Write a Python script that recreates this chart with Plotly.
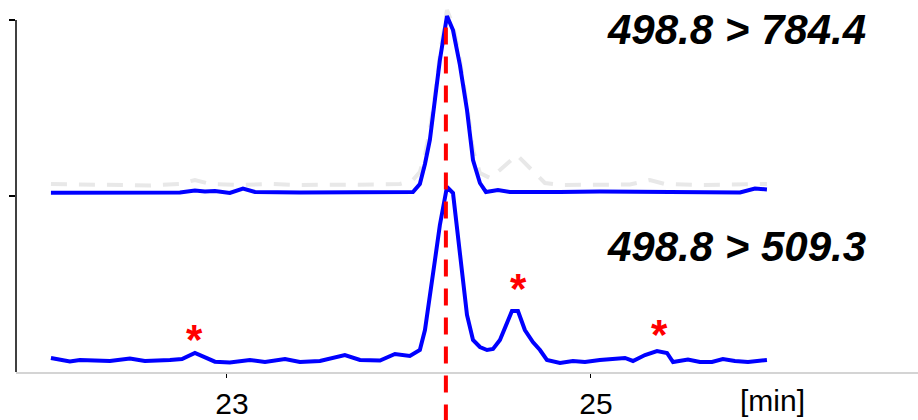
import plotly.graph_objects as go

# ---- data (time in min, intensity in arbitrary units; upper traces offset by ~51) ----
lower_t = [22.033, 22.137, 22.192, 22.357, 22.467, 22.549, 22.687, 22.753, 22.824, 22.934,
           23.016, 23.126, 23.209, 23.319, 23.401, 23.511, 23.648, 23.731, 23.841, 23.923,
           24.005, 24.060, 24.088, 24.115, 24.143, 24.170, 24.209, 24.242, 24.280, 24.319,
           24.352, 24.390, 24.429, 24.462, 24.500, 24.538, 24.566, 24.599, 24.637, 24.681,
           24.720, 24.758, 24.830, 24.901, 24.967, 25.049, 25.187, 25.231, 25.297, 25.363,
           25.418, 25.451, 25.533, 25.599, 25.665, 25.725, 25.791, 25.863, 25.967]
lower_v = [3.98, 2.98, 3.41, 3.13, 3.84, 3.13, 3.41, 3.69, 5.40, 2.93,
           2.70, 3.41, 2.84, 3.69, 2.84, 3.13, 4.83, 3.41, 3.27, 5.11,
           4.55, 6.25, 11.93, 21.02, 31.82, 41.76, 52.56, 50.85, 34.66, 16.19,
           9.09, 7.10, 6.25, 6.53, 9.09, 13.92, 17.33, 17.33, 11.93, 8.52,
           6.25, 3.41, 2.56, 3.13, 2.84, 3.41, 3.98, 3.13, 4.83, 5.97,
           5.40, 2.84, 3.55, 2.84, 2.84, 3.69, 3.13, 2.84, 3.41]

upper_t = [22.033, 22.302, 22.577, 22.687, 22.742, 22.824, 22.879, 22.934, 23.016, 23.088,
           23.154, 23.401, 23.841, 24.022, 24.060, 24.088, 24.115, 24.143, 24.170, 24.209,
           24.242, 24.280, 24.319, 24.352, 24.390, 24.423, 24.489, 24.555, 24.665, 24.830,
           25.049, 25.324, 25.599, 25.819, 25.901, 25.967]
upper_v = [50.94, 50.94, 51.00, 51.14, 51.00, 51.56, 51.28, 51.42, 50.85, 52.13,
           51.14, 51.00, 50.94, 51.14, 53.41, 59.09, 65.91, 77.27, 88.64, 101.14,
           97.16, 87.22, 74.43, 60.23, 53.69, 51.14, 51.70, 51.14, 51.05, 51.14,
           51.28, 51.14, 51.00, 51.00, 52.13, 51.85]

ref_t = [22.033, 22.302, 22.577, 22.742, 22.824, 22.907, 23.071, 23.236, 23.401, 23.841,
         23.951, 24.022, 24.060, 24.088, 24.115, 24.143, 24.170, 24.209, 24.242, 24.280,
         24.319, 24.352, 24.390, 24.445, 24.500, 24.593, 24.665, 24.747, 24.830, 25.049,
         25.214, 25.324, 25.407, 25.599, 25.819, 25.967]
ref_v = [53.41, 53.13, 52.98, 53.41, 54.55, 53.41, 53.13, 53.41, 53.13, 53.27,
         53.41, 54.55, 56.82, 61.65, 68.75, 78.69, 90.06, 102.84, 98.58, 88.64,
         75.85, 63.07, 56.53, 55.11, 57.39, 61.65, 57.95, 53.69, 53.13, 53.13,
         53.27, 54.55, 53.41, 53.13, 53.41, 53.41]

marker_time = 24.203
star_t = [22.824, 24.604, 25.374]
star_v = [10.8, 25.3, 12.5]

transition_labels = ["498.8 > 784.4", "498.8 > 509.3"]
label_y = [0.932, 0.343]

x_tickvals = [23, 25]
x_ticktext = ["23", "25"]
unit_label = "[min]"
unit_pos = 26.0

fig = go.Figure()
fig.add_trace(go.Scatter(x=ref_t, y=ref_v, mode="lines",
                         line=dict(color="#e8e8e8", width=4, dash="16px,12px"),
                         hoverinfo="skip"))
fig.add_trace(go.Scatter(x=upper_t, y=upper_v, mode="lines",
                         line=dict(color="#0000ff", width=4), hoverinfo="skip"))
fig.add_trace(go.Scatter(x=lower_t, y=lower_v, mode="lines",
                         line=dict(color="#0000ff", width=4), hoverinfo="skip"))

# red dashed retention-time marker
fig.add_shape(type="line", xref="x", yref="paper", x0=marker_time, x1=marker_time,
              y0=-0.135, y1=0.959, line=dict(color="#ff0000", width=4, dash="17px,12px"),
              layer="above")
# y axis line (drawn up to value 100)
fig.add_shape(type="line", xref="paper", yref="y", x0=0, x1=0, y0=0, y1=100,
              line=dict(color="black", width=1.5), layer="above")

for t, v in zip(star_t, star_v):
    fig.add_annotation(x=t, y=v, xref="x", yref="y", text="*", showarrow=False,
                       xanchor="center", yanchor="middle", yshift=-6,
                       font=dict(family="Liberation Sans", size=42, color="#ff0000",
                                 weight="bold"))

for txt, yy in zip(transition_labels, label_y):
    fig.add_annotation(x=0.799, y=yy, xref="paper", yref="paper", text=txt, showarrow=False,
                       xanchor="center", yanchor="middle",
                       font=dict(family="Liberation Sans", size=42, color="black",
                                 weight="bold", style="italic"))

fig.add_annotation(x=unit_pos, y=0, xref="x", yref="paper", yanchor="top", yshift=-10,
                   xanchor="center",
                   text=unit_label, showarrow=False,
                   font=dict(family="Liberation Sans", size=30, color="black"))

fig.update_layout(
    width=918, height=420,
    margin=dict(l=16, r=0, t=5, b=48),
    paper_bgcolor="white", plot_bgcolor="white",
    showlegend=False,
    xaxis=dict(range=[21.841, 26.797], showgrid=False, zeroline=False,
               showline=True, linecolor="#d4d4d4", linewidth=1.5,
               tickvals=x_tickvals, ticktext=x_ticktext, ticks="outside",
               ticklen=4, tickwidth=1, tickcolor="black", ticklabelshift=5,
               tickfont=dict(family="Liberation Sans", size=30, color="black")),
    yaxis=dict(range=[0, 104.26], showgrid=False, zeroline=False, showline=False,
               tickvals=[50, 100], ticks="outside", ticklen=6, tickwidth=1.5,
               tickcolor="black", showticklabels=False),
)

fig.write_html("out.html")
